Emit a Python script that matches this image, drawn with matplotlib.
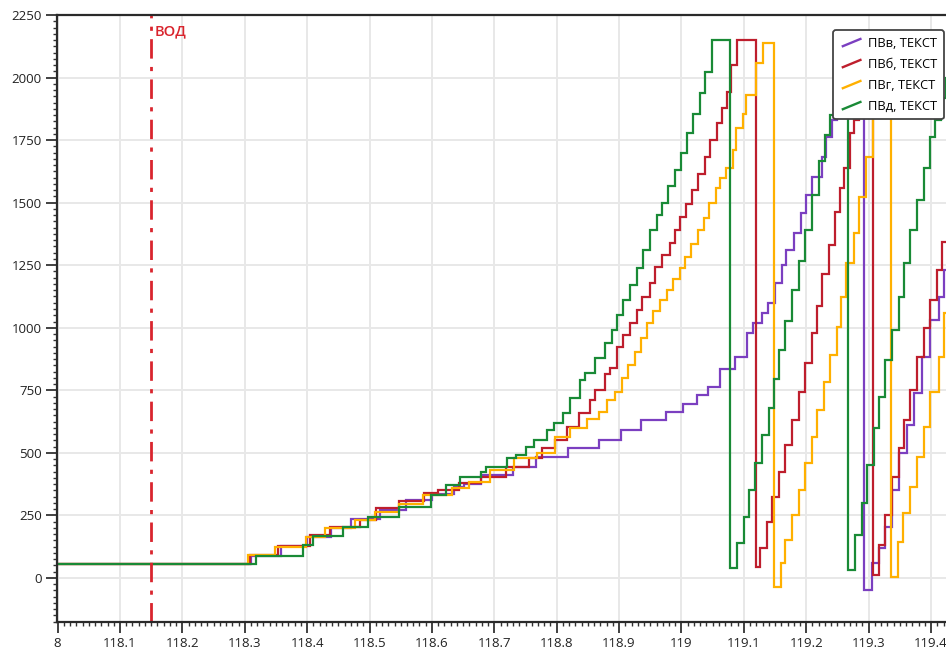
import matplotlib
matplotlib.use("Agg")
import matplotlib.pyplot as plt
from matplotlib.ticker import MultipleLocator, FixedLocator, FixedFormatter
from matplotlib.legend_handler import HandlerBase
from matplotlib.lines import Line2D

plt.rcParams['font.family'] = ['Open Sans', 'DejaVu Sans']

# ---------------- data ----------------
series_names = ["ПВв, ТЕКСТ", "ПВб, ТЕКСТ", "ПВг, ТЕКСТ", "ПВд, ТЕКСТ"]

t_p = [118.000, 118.310, 118.358, 118.400, 118.438, 118.470, 118.516, 118.558, 118.600, 118.636,
       118.652, 118.679, 118.730, 118.767, 118.818, 118.868, 118.903, 118.935, 118.975, 119.003,
       119.025, 119.042, 119.062, 119.086, 119.105, 119.114, 119.129, 119.138, 119.150, 119.161,
       119.167, 119.180, 119.191, 119.199, 119.209, 119.225, 119.231, 119.241, 119.250, 119.260,
       119.270, 119.280, 119.293, 119.305, 119.317, 119.326, 119.338, 119.349, 119.362, 119.373,
       119.386, 119.398, 119.413, 119.421]
v_p = [56, 88, 128, 164, 200, 236, 272, 310, 336, 363,
       375, 411, 443, 483, 519, 551, 591, 631, 663, 695,
       731, 763, 835, 885, 979, 1018, 1058, 1100, 1180, 1250,
       1310, 1378, 1458, 1530, 1602, 1682, 1761, 1829, 1900, 1980,
       2060, 2130, -48, 60, 120, 204, 351, 499, 611, 739,
       883, 1030, 1122, 1230]

t_r = [118.000, 118.308, 118.353, 118.404, 118.436, 118.484, 118.510, 118.548, 118.588, 118.609,
       118.644, 118.678, 118.718, 118.756, 118.777, 118.798, 118.817, 118.835, 118.853, 118.862,
       118.877, 118.886, 118.897, 118.907, 118.917, 118.928, 118.937, 118.949, 118.958, 118.969,
       118.981, 118.989, 118.998, 119.008, 119.017, 119.027, 119.037, 119.046, 119.057, 119.065,
       119.073, 119.080, 119.089, 119.120, 119.126, 119.137, 119.145, 119.157, 119.166, 119.177,
       119.189, 119.198, 119.210, 119.218, 119.226, 119.237, 119.246, 119.254, 119.261, 119.270,
       119.277, 119.285, 119.293, 119.299, 119.307, 119.317, 119.326, 119.338, 119.349, 119.357,
       119.366, 119.378, 119.389, 119.398, 119.410, 119.418, 119.426]
v_r = [56, 92, 128, 172, 204, 232, 280, 308, 340, 351,
       379, 403, 443, 479, 519, 551, 603, 660, 711, 751,
       815, 839, 923, 970, 1018, 1070, 1122, 1180, 1242, 1290,
       1338, 1390, 1442, 1495, 1550, 1615, 1682, 1750, 1817, 1880,
       1941, 2050, 2150, 44, 120, 224, 324, 423, 531, 631,
       743, 859, 979, 1086, 1214, 1330, 1462, 1560, 1640, 1777,
       1829, 1950, 2060, 2150, 10, 132, 252, 403, 519, 631,
       751, 883, 998, 1110, 1230, 1342, 1458]

t_y = [118.000, 118.305, 118.348, 118.398, 118.428, 118.476, 118.508, 118.548, 118.585, 118.632,
       118.659, 118.693, 118.731, 118.768, 118.797, 118.821, 118.848, 118.867, 118.880, 118.893,
       118.904, 118.914, 118.925, 118.935, 118.945, 118.955, 118.966, 118.976, 118.987, 118.997,
       119.006, 119.016, 119.026, 119.036, 119.044, 119.055, 119.062, 119.071, 119.082, 119.087,
       119.098, 119.103, 119.119, 119.130, 119.149, 119.159, 119.166, 119.177, 119.189, 119.198,
       119.210, 119.218, 119.229, 119.238, 119.249, 119.256, 119.264, 119.276, 119.285, 119.296,
       119.307, 119.315, 119.323, 119.336, 119.347, 119.355, 119.366, 119.378, 119.389, 119.398,
       119.413, 119.421, 119.426]
v_y = [56, 92, 124, 164, 200, 232, 264, 296, 330, 360,
       383, 431, 479, 499, 563, 599, 635, 663, 711, 743,
       800, 850, 905, 960, 1018, 1065, 1110, 1150, 1195, 1240,
       1282, 1335, 1390, 1440, 1498, 1560, 1600, 1638, 1710, 1797,
       1853, 1929, 2057, 2140, -36, 60, 152, 252, 351, 459,
       563, 671, 783, 891, 1005, 1122, 1258, 1378, 1522, 1682,
       1850, 1990, 2140, 4, 144, 260, 363, 483, 603, 743,
       883, 1058, 1182]

t_g = [118.000, 118.318, 118.393, 118.409, 118.457, 118.497, 118.548, 118.598, 118.622, 118.645,
       118.678, 118.686, 118.721, 118.734, 118.750, 118.764, 118.785, 118.796, 118.810, 118.821,
       118.837, 118.846, 118.861, 118.877, 118.889, 118.897, 118.907, 118.918, 118.928, 118.939,
       118.950, 118.960, 118.969, 118.979, 118.989, 118.999, 119.009, 119.019, 119.029, 119.038,
       119.049, 119.078, 119.089, 119.101, 119.109, 119.118, 119.129, 119.141, 119.149, 119.157,
       119.166, 119.177, 119.189, 119.198, 119.210, 119.221, 119.230, 119.238, 119.245, 119.252,
       119.258, 119.267, 119.278, 119.290, 119.298, 119.309, 119.317, 119.326, 119.338, 119.349,
       119.357, 119.366, 119.378, 119.389, 119.398, 119.406, 119.416, 119.424]
v_g = [56, 88, 132, 168, 204, 244, 282, 330, 371, 403,
       423, 443, 479, 491, 523, 551, 591, 619, 659, 719,
       791, 819, 879, 939, 990, 1050, 1110, 1170, 1240, 1310,
       1390, 1450, 1500, 1565, 1630, 1700, 1777, 1855, 1937, 2021,
       2150, 40, 140, 244, 351, 459, 571, 679, 795, 911,
       1026, 1150, 1266, 1390, 1530, 1666, 1769, 1849, 1941, 2050,
       2150, 32, 172, 300, 451, 599, 723, 871, 990, 1122,
       1258, 1390, 1510, 1638, 1761, 1829, 1920, 2000]

x_ticks = [118.0, 118.1, 118.2, 118.3, 118.4, 118.5, 118.6, 118.7, 118.8, 118.9,
           119.0, 119.1, 119.2, 119.3, 119.4]
x_tick_labels = ["8", "118.1", "118.2", "118.3", "118.4", "118.5", "118.6", "118.7", "118.8",
                 "118.9", "119", "119.1", "119.2", "119.3", "119.4"]
y_ticks = [0, 250, 500, 750, 1000, 1250, 1500, 1750, 2000, 2250]

marker_x = 118.15
marker_label = "ВОД"

X_MIN, X_MAX = 117.999, 119.424
Y_MIN, Y_MAX = -176, 2250

colors = ["#7b3fc0", "#be1e2d", "#ffb000", "#198a36"]

# ---------------- figure ----------------
W, H = 946, 652
fig = plt.figure(figsize=(W / 100, H / 100), dpi=100)
fig.patch.set_facecolor("white")
ax = fig.add_axes([57 / W, (H - 622) / H, (W - 57) / W, (622 - 15) / H])

ax.set_xlim(X_MIN, X_MAX)
ax.set_ylim(Y_MIN, Y_MAX)

ax.grid(True, which="major", color="#e8e8e8", linewidth=1.4)
ax.set_axisbelow(True)

for t, v, c, name in zip([t_p, t_r, t_y, t_g], [v_p, v_r, v_y, v_g], colors, series_names):
    end_x = max(X_MAX, t[-1]) + 0.01
    ax.step(list(t) + [end_x], list(v) + [v[-1]], where="post", color=c, lw=1.6, label=name,
            solid_joinstyle="miter")

ax.axvline(marker_x, color="#d9252e", lw=2.0, linestyle=(0, (7, 3, 1.5, 3)))
ax.text(marker_x + 0.006, 2212, marker_label, color="#d9252e", fontsize=10.5,
        fontweight="semibold", va="top", ha="left")

ax.xaxis.set_major_locator(FixedLocator(x_ticks))
ax.xaxis.set_major_formatter(FixedFormatter(x_tick_labels))
ax.xaxis.set_minor_locator(MultipleLocator(0.01))
ax.yaxis.set_major_locator(FixedLocator(y_ticks))
ax.yaxis.set_minor_locator(MultipleLocator(25))

ax.tick_params(which="major", direction="out", length=8, width=1.3, color="#333333",
               labelsize=9.5, labelcolor="#222222", pad=3)
ax.tick_params(which="minor", direction="out", length=3, width=1.0, color="#333333")

ax.spines["right"].set_visible(False)
for s in ["left", "top", "bottom"]:
    ax.spines[s].set_color("#2a2a2a")
    ax.spines[s].set_linewidth(1.6)


class DiagHandler(HandlerBase):
    def create_artists(self, legend, orig_handle, xdescent, ydescent, width, height,
                       fontsize, trans):
        x0 = -xdescent + width * 0.15
        x1 = -xdescent + width * 0.95
        y0 = -ydescent + height * 0.05
        y1 = -ydescent + height * 0.85
        ln = Line2D([x0, x1], [y0, y1], color=orig_handle.get_color(), lw=1.7,
                    transform=trans)
        return [ln]


handles, labels = ax.get_legend_handles_labels()
leg = ax.legend(handles, labels, loc="upper left", bbox_to_anchor=(0.873, 0.975),
                fontsize=9.3, frameon=True, fancybox=True, framealpha=1.0,
                edgecolor="#444444", handlelength=1.7, handletextpad=0.5,
                labelspacing=0.62, borderpad=0.5, borderaxespad=0.0,
                handler_map={Line2D: DiagHandler()})
leg.get_frame().set_linewidth(1.3)

fig.savefig("out.png", dpi=100, facecolor="white")
